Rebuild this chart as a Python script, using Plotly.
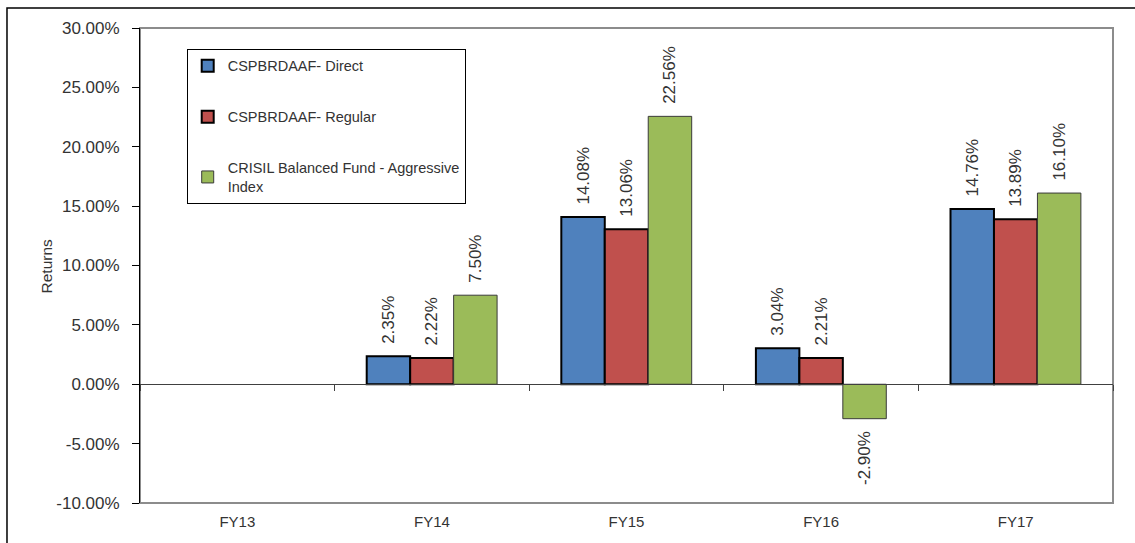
import plotly.graph_objects as go

# Financial-year returns of the scheme (direct and regular plans) and its benchmark
years = ["FY13", "FY14", "FY15", "FY16", "FY17"]
direct = [None, 0.0235, 0.1408, 0.0304, 0.1476]
regular = [None, 0.0222, 0.1306, 0.0221, 0.1389]
benchmark = [None, 0.0750, 0.2256, -0.0290, 0.1610]

series_names = [
    "CSPBRDAAF- Direct",
    "CSPBRDAAF- Regular",
    "CRISIL Balanced Fund - Aggressive<br>Index",
]
series_values = [direct, regular, benchmark]
fill_colors = ["#4F81BD", "#C0504D", "#9BBB59"]
edge_colors = ["#000000", "#000000", "#3a3a3a"]
edge_widths = [2, 2, 1]

# value axis ticks
y_ticks = [-0.10, -0.05, 0.0, 0.05, 0.10, 0.15, 0.20, 0.25, 0.30]
y_tick_text = [f"{v*100:.2f}%" for v in y_ticks]

FONT = "Liberation Sans, Arial, sans-serif"
TXT = "#333333"
# transparent glyph on the bar-facing end keeps the rotated labels clear of the bars
PAD = "<span style='color:rgba(0,0,0,0)'>0</span>"


def bar_label(v):
    if v is None:
        return ""
    txt = f"{v*100:.2f}%"
    # text runs bottom-to-top: its start faces a positive bar, its end a negative one
    return PAD + txt if v >= 0 else txt + PAD


fig = go.Figure()
for i, (name, vals) in enumerate(zip(series_names, series_values)):
    fig.add_trace(go.Bar(
        x=years, y=vals, name=name,
        legendgroup=f"g{i}",
        marker=dict(color=fill_colors[i],
                    line=dict(color=edge_colors[i], width=edge_widths[i])),
        text=[bar_label(v) for v in vals], textposition="outside", textangle=-90,
        textfont=dict(family=FONT, size=17, color=TXT),
        constraintext="none",
        cliponaxis=False,
    ))

fig.update_layout(
    width=1135, height=543,
    margin=dict(l=140, r=22, t=28, b=40),
    paper_bgcolor="white", plot_bgcolor="white",
    barmode="group", bargap=0.33, bargroupgap=0,
    font=dict(family=FONT, size=15, color=TXT),
    showlegend=True,
    legend=dict(
        x=0.048, y=0.956, xanchor="left", yanchor="top",
        bordercolor="#000000", borderwidth=1, bgcolor="white",
        font=dict(family=FONT, size=14.5, color=TXT),
        traceorder="grouped", tracegroupgap=29,
        itemwidth=30,
    ),
    xaxis=dict(
        type="category", categoryorder="array", categoryarray=years,
        range=[-0.5, 4.5], showline=False, ticks="", showgrid=False,
        tickfont=dict(family=FONT, size=15, color=TXT),
        ticklabelstandoff=8,
    ),
    # category axis crossing at zero, with tick marks between categories
    xaxis2=dict(
        type="category", categoryorder="array", categoryarray=years,
        range=[-0.5, 4.5], overlaying="x", anchor="free", position=0.25,
        showline=True, linecolor="#404040", linewidth=1,
        ticks="outside", ticklen=6, tickcolor="#404040", tickson="boundaries",
        showticklabels=False, showgrid=False,
    ),
    yaxis=dict(
        range=[-0.10, 0.30], tickvals=y_ticks, ticktext=y_tick_text,
        showline=True, linecolor="#000000", linewidth=1,
        ticks="outside", ticklen=7, tickcolor="#000000",
        showgrid=False, zeroline=False,
        tickfont=dict(family=FONT, size=17, color=TXT),
        ticklabelstandoff=9,
    ),
    annotations=[
        dict(text="Returns", xref="paper", yref="paper", x=-0.0956, y=0.5,
             xanchor="center", yanchor="middle", textangle=-90, showarrow=False,
             font=dict(family=FONT, size=15.5, color=TXT)),
    ],
    shapes=[
        # plot-area frame
        dict(type="rect", xref="paper", yref="paper", x0=0, x1=1, y0=0, y1=1,
             line=dict(color="#8c8c8c", width=2), layer="below"),
        # outer chart border
        dict(type="rect", xref="paper", yref="paper",
             x0=-0.1367, x1=1.1, y0=-0.2, y1=1.042,
             line=dict(color="#000000", width=1.5), layer="below"),
    ],
)

# empty trace so the zero-crossing category axis is drawn
fig.add_trace(go.Scatter(x=years, y=[None] * len(years), xaxis="x2",
                         showlegend=False, hoverinfo="skip"))

fig.write_html("out.html")
